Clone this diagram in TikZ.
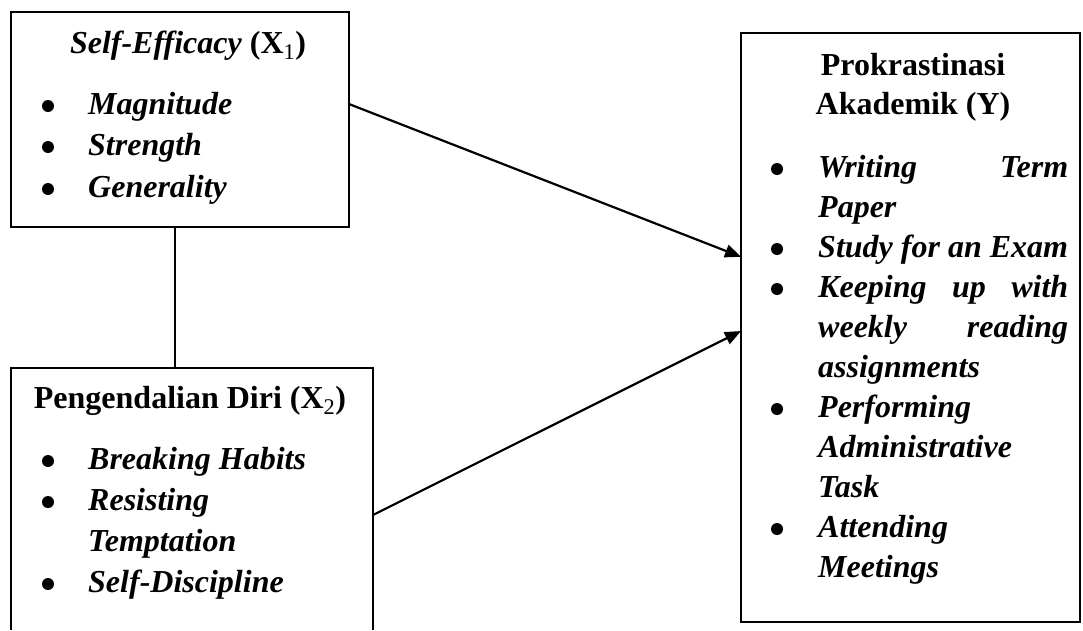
\documentclass[tikz,border=0pt]{standalone}
\usepackage{fontspec}
\setmainfont{Liberation Serif}
\usepackage{tikz}
\usetikzlibrary{arrows.meta,calc,fit,positioning}

\newcommand{\bigtext}{\fontsize{32}{40}\selectfont}

\begin{document}
\begin{tikzpicture}[x=1pt,y=-1pt,>={Triangle[length=16pt,width=13pt]},
    every fit/.style={inner sep=0pt, outer sep=0pt},
    box/.style={draw, line width=2.6pt},
    ttl/.style={anchor=base, inner sep=0pt, font=\bigtext\bfseries},
    itm/.style={anchor=base west, inner sep=0pt, font=\bigtext\bfseries\itshape},
    dot/.style={circle, fill, inner sep=0pt, minimum size=12pt, yshift=8pt}]
	\useasboundingbox (0,0) rectangle (1083,630);

	% the three boxes
	\node [box, fit={(11,12) (349,227)}] (sebox) {};
	\node [fit={(11,368) (373,630)}] (pdbox) {};
	\draw [line width=2.6pt] (pdbox.south west) -- (pdbox.north west) -- (pdbox.north east) -- (pdbox.south east);
	\node [box, fit={(741,33) (1080,622)}] (pkbox) {};

	% Self-Efficacy
	\node [ttl] (setitle) at (188,53) {\textit{Self-Efficacy} (X\textsubscript{\mdseries 1})};
	\foreach \y/\txt [count=\i] in {114/Magnitude, 155/Strength, 197/Generality} {
		\node [dot] (sedot\i) at (48,\y) {};
		\node [itm] (seitem\i) at (88,\y) {\txt};
	}

	% Pengendalian Diri
	\node [ttl] (pdtitle) at (190,408) {Pengendalian Diri (X\textsubscript{\mdseries 2})};
	\node [dot] (pddot1) at (48,469) {};
	\node [dot] (pddot2) at (48,510) {};
	\node [dot] (pddot3) at (48,592) {};
	\node [itm] (pditem1) at (88,469) {Breaking Habits};
	\node [itm] (pditem2) at (88,510) {Resisting};
	\node [itm] (pditem2b) at (88,551) {Temptation};
	\node [itm] (pditem3) at (88,592) {Self-Discipline};

	% Prokrastinasi Akademik
	\node [ttl] (pktitle1) at (913,75) {Prokrastinasi};
	\node [ttl] (pktitle2) at (913,114) {Akademik (Y)};
	\foreach \y [count=\i] in {177,257,297,417,537}
		\node [dot] (pkdot\i) at (777,\y) {};
	\node [itm] (pkitem1) at (818,177) {\makebox[250pt][l]{Writing\hfill Term}};
	\node [itm] (pkitem1b) at (818,217) {Paper};
	\node [itm] (pkitem2) at (818,257) {Study for an Exam};
	\node [itm] (pkitem3) at (818,297) {\makebox[250pt][l]{Keeping\hfill up\hfill with}};
	\node [itm] (pkitem3b) at (818,337) {\makebox[250pt][l]{weekly\hfill reading}};
	\node [itm] (pkitem3c) at (818,377) {assignments};
	\node [itm] (pkitem4) at (818,417) {Performing};
	\node [itm] (pkitem4b) at (818,457) {Administrative};
	\node [itm] (pkitem4c) at (818,497) {Task};
	\node [itm] (pkitem5) at (818,537) {Attending};
	\node [itm] (pkitem5b) at (818,577) {Meetings};

	% connectors
	\coordinate (vx) at (175,0);
	\draw [line width=1.3pt] (sebox.south -| vx) -- (pdbox.north -| vx);
	\draw [->, line width=2.2pt] ($(sebox.north east)!0.428!(sebox.south east)$) -- ($(pkbox.north west)!0.38!(pkbox.south west)$);
	\draw [->, line width=2.2pt] ($(pdbox.north east)!0.561!(pdbox.south east)$) -- ($(pkbox.north west)!0.506!(pkbox.south west)$);
\end{tikzpicture}
\end{document}
